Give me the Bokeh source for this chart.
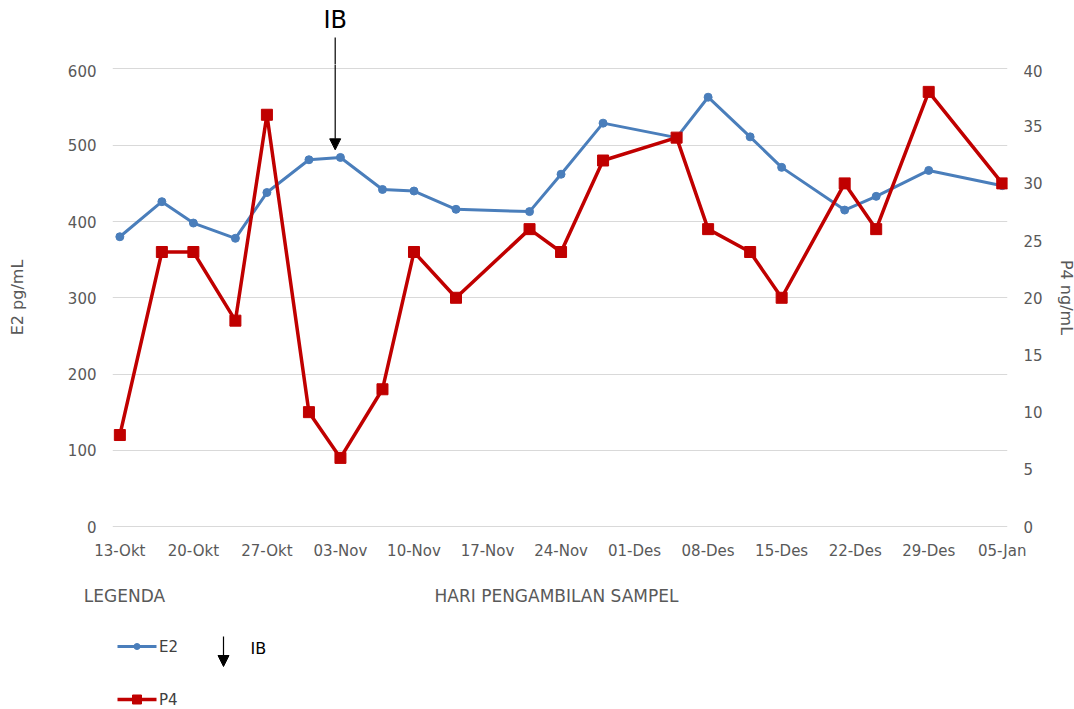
import pandas as pd
from bokeh.plotting import figure
from bokeh.models import (Range1d, LinearAxis, FixedTicker, Arrow, NormalHead,
                          ColumnDataSource)
from bokeh.layouts import column
from bokeh.embed import file_html
from bokeh.resources import INLINE
from bokeh.core.properties import value

# ---------------- data ----------------
sample_dates = ["2019-10-13", "2019-10-17", "2019-10-20", "2019-10-24", "2019-10-27",
                "2019-10-31", "2019-11-03", "2019-11-07", "2019-11-10", "2019-11-14",
                "2019-11-21", "2019-11-24", "2019-11-28", "2019-12-05", "2019-12-08",
                "2019-12-12", "2019-12-15", "2019-12-21", "2019-12-24", "2019-12-29",
                "2020-01-05"]
e2_values = [380, 426, 398, 378, 438, 481, 484, 442, 440, 416, 413,
             462, 529, 510, 563, 511, 471, 415, 433, 467, 447]
p4_values = [8, 24, 24, 18, 36, 10, 6, 12, 24, 20, 26,
             24, 32, 34, 26, 24, 20, 30, 26, 38, 30]
tick_dates = ["2019-10-13", "2019-10-20", "2019-10-27", "2019-11-03", "2019-11-10",
              "2019-11-17", "2019-11-24", "2019-12-01", "2019-12-08", "2019-12-15",
              "2019-12-22", "2019-12-29", "2020-01-05"]
tick_labels = ["13-Okt", "20-Okt", "27-Okt", "03-Nov", "10-Nov", "17-Nov", "24-Nov",
               "01-Des", "08-Des", "15-Des", "22-Des", "29-Des", "05-Jan"]
e2_ticks = [0, 100, 200, 300, 400, 500, 600]
p4_ticks = [0, 5, 10, 15, 20, 25, 30, 35, 40]
ib_date = "2019-11-03"

# ---------------- style ----------------
BLUE = "#4A7EBB"
RED = "#C00000"
GRID = "#D9D9D9"
TXT = "#595959"
FONT = "DejaVu Sans"

start = pd.to_datetime(sample_dates[0])
def day(d):
    return (pd.to_datetime(d) - start).days

days = [day(d) for d in sample_dates]
tick_days = [day(d) for d in tick_dates]
ib_x = day(ib_date) - 0.5   # hand-drawn arrow sits just left of the point

src = ColumnDataSource(dict(day=days, e2=e2_values, p4=p4_values))

LEFT, RIGHT = 112, 67
FW = 895
TOP_H = 64
E2_MIN, E2_MAX = -5.2, 605.9
x_range = Range1d(-0.7, 84.5)

# ---------------- top strip (IB marker label) ----------------
top = figure(frame_width=FW, frame_height=TOP_H, min_border_left=LEFT,
             min_border_right=RIGHT, min_border_top=0, min_border_bottom=0,
             x_range=x_range, y_range=Range1d(TOP_H, 0),
             x_axis_type=None, y_axis_type=None,
             output_backend="svg", toolbar_location=None)
top.outline_line_color = None
top.grid.visible = False
top.text(x=[ib_x], y=[19], text=["IB"], text_align="center",
         text_baseline="middle", text_font=value(FONT), text_font_size="24px",
         text_color="black")
top.segment(x0=[ib_x], y0=[37], x1=[ib_x], y1=[TOP_H + 1], line_color="black",
            line_width=1.2)

# ---------------- main chart ----------------
p = figure(frame_width=FW, frame_height=466,
           min_border_left=LEFT, min_border_right=RIGHT, min_border_top=0,
           min_border_bottom=40,
           x_range=x_range, y_range=Range1d(E2_MIN, E2_MAX),
           output_backend="svg", toolbar_location=None)
p.extra_y_ranges = {"p4": Range1d(E2_MIN * 40 / 600, E2_MAX * 40 / 600)}
p.add_layout(LinearAxis(y_range_name="p4", ticker=FixedTicker(ticks=p4_ticks),
                        axis_label="P4 ng/mL"), "right")
p.outline_line_color = None

p.xaxis.ticker = FixedTicker(ticks=tick_days)
p.xaxis.major_label_overrides = {d: lab for d, lab in zip(tick_days, tick_labels)}
p.yaxis[0].ticker = FixedTicker(ticks=e2_ticks)
p.yaxis[0].axis_label = "E2 pg/mL"

for ax in p.axis:
    ax.axis_line_color = None
    ax.major_tick_line_color = None
    ax.minor_tick_line_color = None
    ax.major_tick_out = 0
    ax.major_tick_in = 0
    ax.major_label_text_font = FONT
    ax.major_label_text_font_size = "15px"
    ax.major_label_text_color = TXT
    ax.axis_label_text_font = FONT
    ax.axis_label_text_font_size = "16px"
    ax.axis_label_text_font_style = "normal"
    ax.axis_label_text_color = TXT
p.xaxis.major_label_standoff = 11
for ax in p.yaxis:
    ax.major_label_standoff = 16
p.yaxis[0].axis_label_standoff = 38
p.yaxis[1].axis_label_standoff = 11

p.xgrid.visible = False
p.ygrid.ticker = FixedTicker(ticks=e2_ticks)
p.ygrid.grid_line_color = GRID
p.ygrid.grid_line_width = 1

p.line("day", "e2", source=src, line_color=BLUE, line_width=3)
p.scatter("day", "e2", source=src, marker="circle", size=8,
          fill_color=BLUE, line_color=BLUE)
p.line("day", "p4", source=src, y_range_name="p4", line_color=RED, line_width=3.5)
p.scatter("day", "p4", source=src, y_range_name="p4", marker="square", size=11,
          fill_color=RED, line_color=RED)

# IB arrow (continues the shaft from the top strip)
p.add_layout(Arrow(end=NormalHead(size=11, fill_color="black", line_color="black"),
                   x_start=ib_x, y_start=E2_MAX + 2, x_end=ib_x, y_end=494,
                   line_color="black", line_width=1.2))

# ---------------- legend area ----------------
LG_H = 139
LG_TOP = 45
lg = figure(frame_width=FW, frame_height=LG_H - LG_TOP,
            min_border_left=LEFT, min_border_right=RIGHT,
            min_border_top=LG_TOP, min_border_bottom=0,
            x_range=Range1d(LEFT, LEFT + FW), y_range=Range1d(LG_H, LG_TOP),
            x_axis_type=None, y_axis_type=None,
            output_backend="svg", toolbar_location=None)
lg.outline_line_color = None
lg.grid.visible = False

# caption row: "LEGENDA" and the x-axis title, set on a label-only axis
caption_pos = [124, 556]
caption_txt = ["LEGENDA", "HARI PENGAMBILAN SAMPEL"]
cap_axis = LinearAxis(ticker=FixedTicker(ticks=caption_pos),
                      major_label_overrides={x: t for x, t in zip(caption_pos, caption_txt)})
cap_axis.axis_line_color = None
cap_axis.major_tick_line_color = None
cap_axis.minor_tick_line_color = None
cap_axis.major_tick_out = 0
cap_axis.major_tick_in = 0
cap_axis.major_label_standoff = 10
cap_axis.major_label_text_font = FONT
cap_axis.major_label_text_font_size = "17px"
cap_axis.major_label_text_color = TXT
lg.add_layout(cap_axis, "above")

# E2 entry
lg.line(x=[117, 156], y=[76, 76], line_color=BLUE, line_width=3)
lg.scatter(x=[136.5], y=[76], marker="circle", size=6, fill_color=BLUE, line_color=BLUE)
lg.text(x=[158.5], y=[76], text=["E2"], text_align="left", text_baseline="middle",
        text_font=value(FONT), text_font_size="15px", text_color="#404040")
# P4 entry
lg.line(x=[117, 156], y=[129, 129], line_color=RED, line_width=3.5)
lg.scatter(x=[136.5], y=[129], marker="square", size=9, fill_color=RED, line_color=RED)
lg.text(x=[158.5], y=[129], text=["P4"], text_align="left", text_baseline="middle",
        text_font=value(FONT), text_font_size="15px", text_color="#404040")
# IB entry
lg.add_layout(Arrow(end=NormalHead(size=11, fill_color="black", line_color="black"),
                    x_start=223, y_start=66, x_end=223, y_end=96,
                    line_color="black", line_width=1.2))
lg.text(x=[250], y=[78], text=["IB"], text_align="left", text_baseline="middle",
        text_font=value(FONT), text_font_size="16px", text_color="black")

layout = column(top, p, lg, spacing=0)
open("out.html", "w").write(file_html(layout, INLINE))
